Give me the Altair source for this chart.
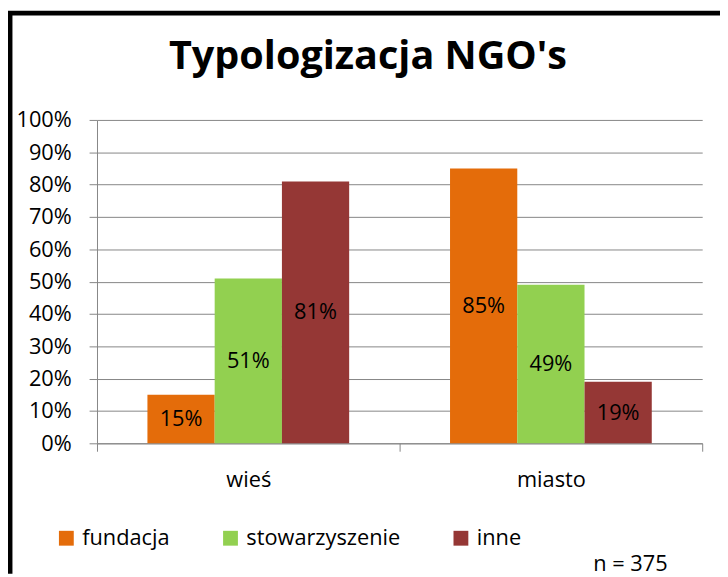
import altair as alt
import pandas as pd

groups = ["wieś", "miasto"]
series = ["fundacja", "stowarzyszenie", "inne"]
values_wies = [15, 51, 81]
values_miasto = [85, 49, 19]
colors = ["#E46C0A", "#92D050", "#953735"]
title_text = "Typologizacja NGO's"
note_text = "n = 375"
y_ticks = [0, 0.1, 0.2, 0.3, 0.4, 0.5, 0.6, 0.7, 0.8, 0.9, 1.0]

rows = []
for g, vals in zip(groups, [values_wies, values_miasto]):
    for s, v in zip(series, vals):
        rows.append({"grp": g, "series": s, "value": v / 100, "label": f"{v}%"})
df = pd.DataFrame(rows)

FONT = "Open Sans"
GREY = "#868686"

x_axis = alt.Axis(tickBand="extent", labelAngle=0, domainColor=GREY,
                  tickColor=GREY, tickSize=8, labelPadding=19,
                  labelFont=FONT, labelFontSize=22, labelColor="black",
                  grid=False)
y_axis = alt.Axis(values=y_ticks, format=".0%", domainColor=GREY,
                  tickColor=GREY, tickSize=8, gridColor=GREY,
                  labelPadding=18, labelFont=FONT, labelFontSize=22,
                  labelColor="black", labelOverlap=False)

x_scale = alt.Scale(paddingInner=0, paddingOuter=0)
xo_scale = alt.Scale(paddingOuter=0.75, paddingInner=0)
y_scale = alt.Scale(domain=[0, 1], nice=False)

base = alt.Chart(df)

bars = base.mark_bar().encode(
    x=alt.X("grp:N", sort=groups, title=None, scale=x_scale, axis=x_axis),
    xOffset=alt.XOffset("series:N", sort=series, scale=xo_scale),
    y=alt.Y("value:Q", title=None, scale=y_scale, axis=y_axis),
    color=alt.Color("series:N", sort=series,
                    scale=alt.Scale(domain=series, range=colors),
                    legend=alt.Legend(title=None, orient="none", legendX=-42,
                                      legendY=412, direction="horizontal",
                                      symbolType="square", symbolSize=225,
                                      symbolStrokeWidth=0, labelOffset=5,
                                      columnPadding=50, labelFont=FONT,
                                      labelFontSize=22, labelColor="black",
                                      labelLimit=400)),
)

labels = base.transform_calculate(mid="datum.value / 2").mark_text(
    font=FONT, fontSize=22, color="black", baseline="middle"
).encode(
    x=alt.X("grp:N", sort=groups, title=None, scale=x_scale, axis=x_axis),
    xOffset=alt.XOffset("series:N", sort=series, scale=xo_scale),
    y=alt.Y("mid:Q", title=None, scale=y_scale, axis=y_axis),
    text="label:N",
)

one = alt.Data(values=[{"t": note_text}])
note = alt.Chart(one).mark_text(
    font=FONT, fontSize=22, color="black", align="right", baseline="alphabetic"
).encode(x=alt.value(577), y=alt.value(456), text="t:N")

left_border = alt.Chart(one).mark_rule(color="black", strokeWidth=5).encode(
    x=alt.value(-88), y=alt.value(-110), y2=alt.value(459))
top_border = alt.Chart(one).mark_rule(color="black", strokeWidth=5).encode(
    x=alt.value(-90), x2=alt.value(630), y=alt.value(-108))

chart = alt.layer(bars, labels, note, left_border, top_border).properties(
    width=612, height=327,
    title=alt.TitleParams(title_text, font=FONT, fontSize=40, fontWeight="bold",
                          anchor="middle", dx=-32, offset=-101, baseline="alphabetic",
                          color="black"),
    autosize=alt.AutoSizeParams(type="none"),
    padding={"left": 90, "top": 110, "right": 18, "bottom": 132},
).configure_view(stroke=None)

chart.save("out.html", embed_options={"renderer": "svg", "actions": False})
